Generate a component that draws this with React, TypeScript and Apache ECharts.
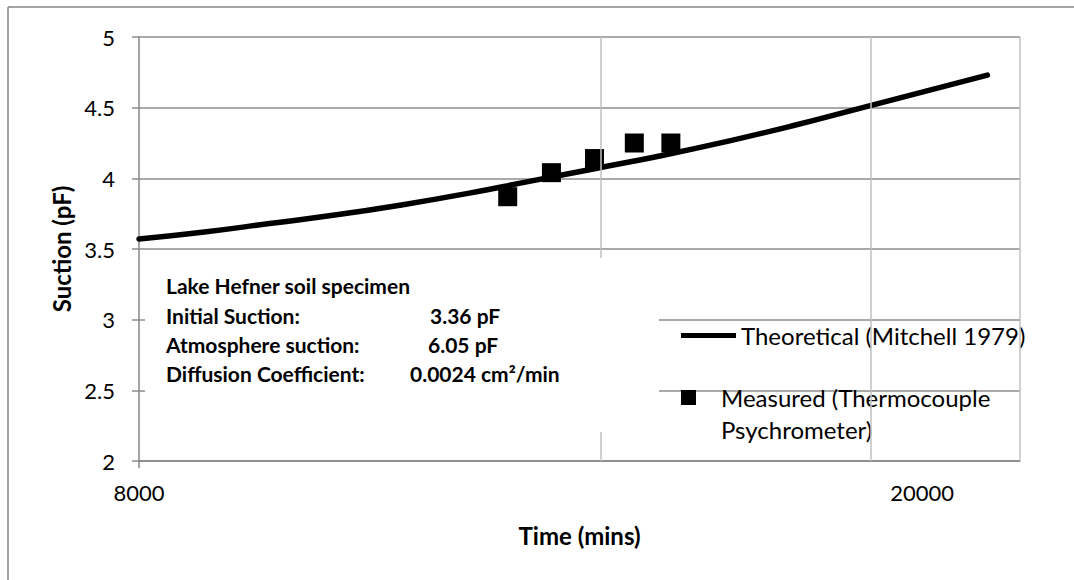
import { useEffect, useRef } from "react";
import * as echarts from "echarts";

// Theoretical suction curve (Mitchell 1979)
const timeMins = [8000, 9000, 10000, 11000, 12000, 13000, 14000, 15000, 16000, 17000, 18000, 19000, 20000, 21000];
const theoreticalSuction = [3.57, 3.62, 3.68, 3.74, 3.81, 3.89, 3.98, 4.07, 4.16, 4.26, 4.37, 4.49, 4.61, 4.73];

// Thermocouple psychrometer readings
const measuredTime = [13650, 14320, 14980, 15590, 16150];
const measuredSuction = [3.87, 4.04, 4.14, 4.25, 4.25];

// Axis ticks and vertical grid positions
const xTickLabels = [8000, 20000];
const xGridValues = [15080, 19220, 21500];

// Specimen notes
const noteLabels = ["Lake Hefner soil specimen", "Initial Suction:", "Atmosphere suction:", "Diffusion Coefficient:"];
const noteValues = ["", "3.36 pF", "6.05 pF", "0.0024 cm\u00B2/min"];

const THEORY = "Theoretical (Mitchell 1979)";
const MEASURED = "Measured (Thermocouple Psychrometer)";

const FONT = 'Lato, "Open Sans", sans-serif';
const AXIS_GREY = "#868686";
const HGRID = "#8c8c8c";
const VGRID = "#c0c0c0";

export default function App() {
  const ref = useRef<HTMLDivElement>(null);

  useEffect(() => {
    document.body.style.margin = "0";
    if (!ref.current) return;
    const chart = echarts.init(ref.current, undefined, { renderer: "svg" });

    const noteRows = [285, 315, 344, 373];
    const valueX = [0, 430, 428, 410];
    const noteFont = `bold 21px ${FONT}`;

    const noteElements: any[] = [];
    noteLabels.forEach((label, i) => {
      noteElements.push({
        type: "text",
        x: 166,
        y: noteRows[i],
        z: 20,
        style: { text: label, font: noteFont, fill: "#000", textVerticalAlign: "middle" },
      });
      if (noteValues[i]) {
        noteElements.push({
          type: "text",
          x: valueX[i],
          y: noteRows[i],
          z: 20,
          style: { text: noteValues[i], font: noteFont, fill: "#000", textVerticalAlign: "middle" },
        });
      }
    });

    const legendText = { fontFamily: FONT, fontSize: 24, color: "#000", lineHeight: 31.5 };

    chart.setOption({
      animation: false,
      backgroundColor: "#fff",
      grid: { left: 139, top: 37, width: 881, height: 424, containLabel: false },
      legend: [
        {
          orient: "vertical",
          left: 681,
          top: 319.75,
          padding: 0,
          itemWidth: 55,
          itemHeight: 15,
          itemGap: 0,
          data: [{ name: THEORY, icon: "path://M0,0L55,0L55,5L0,5Z" }],
          textStyle: legendText,
        },
        {
          orient: "vertical",
          left: 681,
          top: 350.25,
          padding: 0,
          itemWidth: 55,
          itemHeight: 15,
          itemGap: 0,
          data: [{ name: MEASURED, icon: "path://M0,0L10,0L10,10L0,10Z" }],
          formatter: () => "\nMeasured (Thermocouple\nPsychrometer)",
          textStyle: legendText,
        },
      ],
      xAxis: {
        type: "value",
        min: 8000,
        max: 21500,
        name: "Time (mins)",
        nameLocation: "middle",
        nameGap: 62,
        nameTextStyle: { fontFamily: FONT, fontSize: 24, fontWeight: "bold", color: "#000" },
        axisLine: { show: true, lineStyle: { color: AXIS_GREY, width: 1.5 } },
        axisTick: { show: true, length: 7, customValues: [8000], lineStyle: { color: AXIS_GREY, width: 1.5 } },
        axisLabel: {
          customValues: xTickLabels,
          fontFamily: FONT,
          fontSize: 22,
          color: "#000",
          margin: 20,
          formatter: (v: number) => String(v),
        },
        splitLine: { show: false },
      },
      yAxis: {
        type: "value",
        min: 2,
        max: 5,
        interval: 0.5,
        name: "Suction (pF)",
        nameLocation: "middle",
        nameGap: 66,
        nameTextStyle: { fontFamily: FONT, fontSize: 24, fontWeight: "bold", color: "#000" },
        axisLine: { show: true, lineStyle: { color: AXIS_GREY, width: 1.5 } },
        axisTick: { show: true, length: 7, lineStyle: { color: HGRID, width: 1.5 } },
        axisLabel: { fontFamily: FONT, fontSize: 22, color: "#000", margin: 24 },
        splitLine: { show: true, lineStyle: { color: HGRID, width: 1.5 } },
      },
      series: [
        {
          name: "grid",
          type: "line",
          data: [],
          z: 1,
          silent: true,
          markLine: {
            silent: true,
            symbol: "none",
            label: { show: false },
            lineStyle: { color: VGRID, width: 1.5, type: "solid" },
            data: xGridValues.map((v) => ({ xAxis: v })),
          },
        },
        {
          name: THEORY,
          type: "line",
          data: timeMins.map((t, i) => [t, theoreticalSuction[i]]),
          smooth: true,
          showSymbol: false,
          symbol: "none",
          z: 3,
          lineStyle: { color: "#000", width: 5.5, cap: "round" },
          itemStyle: { color: "#000" },
        },
        {
          name: MEASURED,
          type: "scatter",
          data: measuredTime.map((t, i) => [t, measuredSuction[i]]),
          symbol: "rect",
          symbolSize: 19,
          z: 4,
          itemStyle: { color: "#000", opacity: 1 },
        },
      ],
      graphic: [
        {
          type: "rect",
          z: 10,
          shape: { x: 145, y: 258, width: 514, height: 174 },
          style: { fill: "#fff" },
        },
        ...noteElements,
        {
          type: "line",
          z: 30,
          shape: { x1: 8, y1: 7, x2: 1074, y2: 7 },
          style: { stroke: AXIS_GREY, lineWidth: 1.5 },
        },
        {
          type: "line",
          z: 30,
          shape: { x1: 8, y1: 7, x2: 8, y2: 580 },
          style: { stroke: AXIS_GREY, lineWidth: 1.5 },
        },
      ],
    });

    return () => chart.dispose();
  }, []);

  return <div ref={ref} style={{ width: 1074, height: 580 }} />;
}
